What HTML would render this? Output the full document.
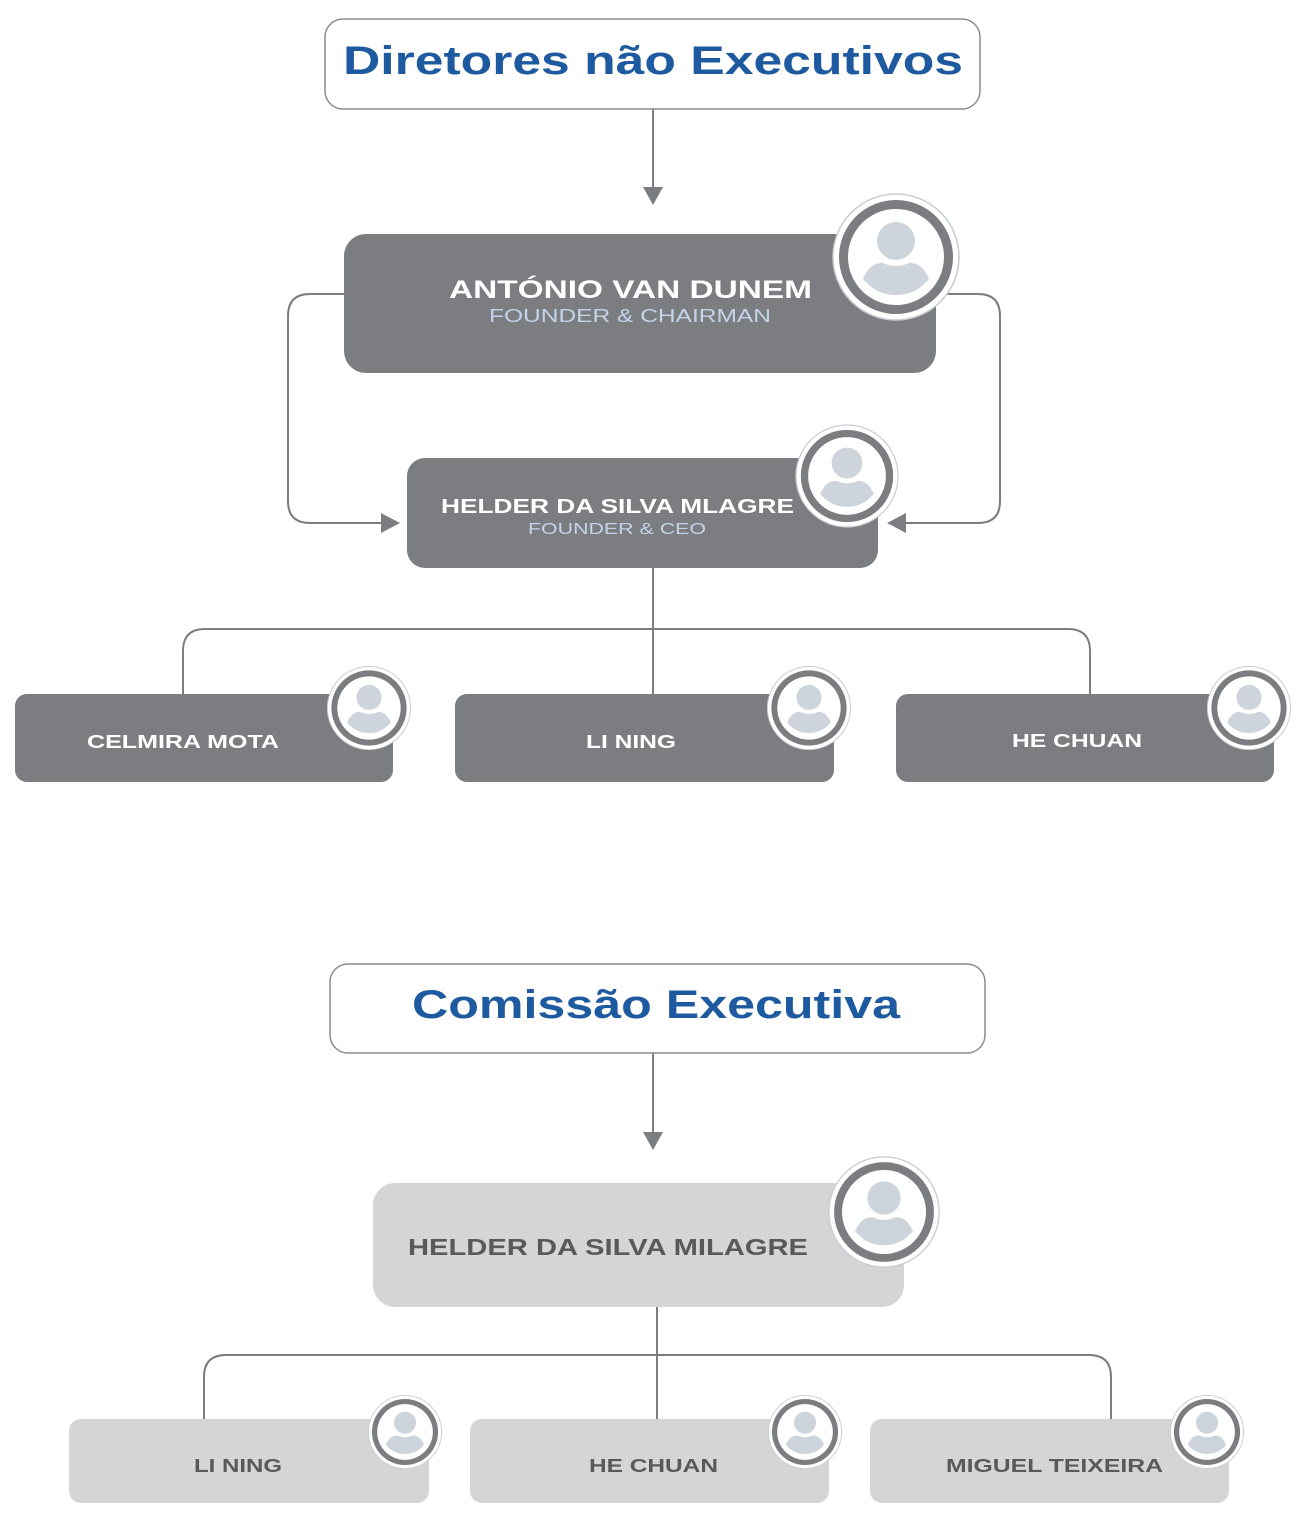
<!DOCTYPE html>
<html><head><meta charset="utf-8"><style>
html,body{margin:0;padding:0;background:#fff}
svg{display:block}
text{font-family:"Liberation Sans",sans-serif}
</style></head><body>
<svg width="1307" height="1521" viewBox="0 0 1307 1521" xmlns="http://www.w3.org/2000/svg">
<defs>
<g id="av">
<circle r="63" fill="#fff" stroke="#c8cdd3" stroke-width="1.5"/>
<circle r="57" fill="#7b7d81"/>
<circle r="48" fill="#fff"/>
<circle cy="-16" r="19" fill="#cdd4db"/>
<path d="M-33,22 Q-26,5 -13,6 Q0,12 13,6 Q26,5 33,22 Q20,38 0,38 Q-20,38 -33,22Z" fill="#cdd4db"/>
</g>
</defs>
<g fill="none" stroke="#7b7d81" stroke-width="2">
<path d="M653,109 V195"/>
<path d="M344,294 H310 Q288,294 288,316 V501 Q288,523 310,523 H385"/>
<path d="M936,294 H978 Q1000,294 1000,316 V501 Q1000,523 978,523 H903"/>
<path d="M653,568 V694"/>
<path d="M183,694 V651 Q183,629 205,629 H1068 Q1090,629 1090,651 V694"/>
<path d="M653,1053 V1140"/>
<path d="M657,1307 V1419"/>
<path d="M204,1419 V1377 Q204,1355 226,1355 H1089 Q1111,1355 1111,1377 V1419"/>
</g>
<g fill="#7b7d81">
<path d="M643,187 L663,187 L653,205Z"/>
<path d="M381,513 L400,523 L381,533Z"/>
<path d="M906,513 L887,523 L906,533Z"/>
<path d="M643,1132 L663,1132 L653,1150Z"/>
</g>
<rect x="325" y="19" width="655" height="90" rx="18" fill="#fff" stroke="#8a8c90" stroke-width="1.5"/>
<text x="343" y="74" font-size="40" font-weight="bold" fill="#1e5aa0" textLength="620" lengthAdjust="spacingAndGlyphs">Diretores não Executivos</text>
<rect x="344" y="234" width="592" height="139" rx="22" fill="#7b7d81"/>
<text x="449" y="298" font-size="25" font-weight="bold" fill="#fff" textLength="363" lengthAdjust="spacingAndGlyphs">ANTÓNIO VAN DUNEM</text>
<text x="489" y="322" font-size="18" fill="#c3d4ea" textLength="282" lengthAdjust="spacingAndGlyphs">FOUNDER &amp; CHAIRMAN</text>
<use href="#av" transform="translate(896,257)"/>
<rect x="407" y="458" width="471" height="110" rx="18" fill="#7b7d81"/>
<text x="441" y="513" font-size="20" font-weight="bold" fill="#fff" textLength="353" lengthAdjust="spacingAndGlyphs">HELDER DA SILVA MLAGRE</text>
<text x="528" y="534" font-size="16" fill="#c3d4ea" textLength="178" lengthAdjust="spacingAndGlyphs">FOUNDER &amp; CEO</text>
<use href="#av" transform="translate(847,476) scale(0.81)"/>
<rect x="15" y="694" width="378" height="88" rx="12" fill="#7b7d81"/>
<text x="87" y="748" font-size="18" font-weight="bold" fill="#fff" textLength="192" lengthAdjust="spacingAndGlyphs">CELMIRA MOTA</text>
<use href="#av" transform="translate(369,708) scale(0.66)"/>
<rect x="455" y="694" width="379" height="88" rx="12" fill="#7b7d81"/>
<text x="586" y="748" font-size="18" font-weight="bold" fill="#fff" textLength="90" lengthAdjust="spacingAndGlyphs">LI NING</text>
<use href="#av" transform="translate(809,708) scale(0.66)"/>
<rect x="896" y="694" width="378" height="88" rx="12" fill="#7b7d81"/>
<text x="1012" y="747" font-size="18" font-weight="bold" fill="#fff" textLength="130" lengthAdjust="spacingAndGlyphs">HE CHUAN</text>
<use href="#av" transform="translate(1249,708) scale(0.66)"/>
<rect x="330" y="964" width="655" height="89" rx="18" fill="#fff" stroke="#8a8c90" stroke-width="1.5"/>
<text x="412" y="1018" font-size="40" font-weight="bold" fill="#1e5aa0" textLength="488" lengthAdjust="spacingAndGlyphs">Comissão Executiva</text>
<rect x="373" y="1183" width="531" height="124" rx="22" fill="#d5d5d6"/>
<text x="408" y="1255" font-size="23" font-weight="bold" fill="#58595b" textLength="400" lengthAdjust="spacingAndGlyphs">HELDER DA SILVA MILAGRE</text>
<use href="#av" transform="translate(884,1212) scale(0.875)"/>
<rect x="69" y="1419" width="360" height="84" rx="12" fill="#d5d5d6"/>
<text x="194" y="1472" font-size="18" font-weight="bold" fill="#58595b" textLength="88" lengthAdjust="spacingAndGlyphs">LI NING</text>
<use href="#av" transform="translate(405,1432) scale(0.58)"/>
<rect x="470" y="1419" width="359" height="84" rx="12" fill="#d5d5d6"/>
<text x="589" y="1472" font-size="18" font-weight="bold" fill="#58595b" textLength="129" lengthAdjust="spacingAndGlyphs">HE CHUAN</text>
<use href="#av" transform="translate(805,1432) scale(0.58)"/>
<rect x="870" y="1419" width="359" height="84" rx="12" fill="#d5d5d6"/>
<text x="946" y="1472" font-size="18" font-weight="bold" fill="#58595b" textLength="217" lengthAdjust="spacingAndGlyphs">MIGUEL TEIXEIRA</text>
<use href="#av" transform="translate(1207,1432) scale(0.58)"/>
</svg>
</body></html>
